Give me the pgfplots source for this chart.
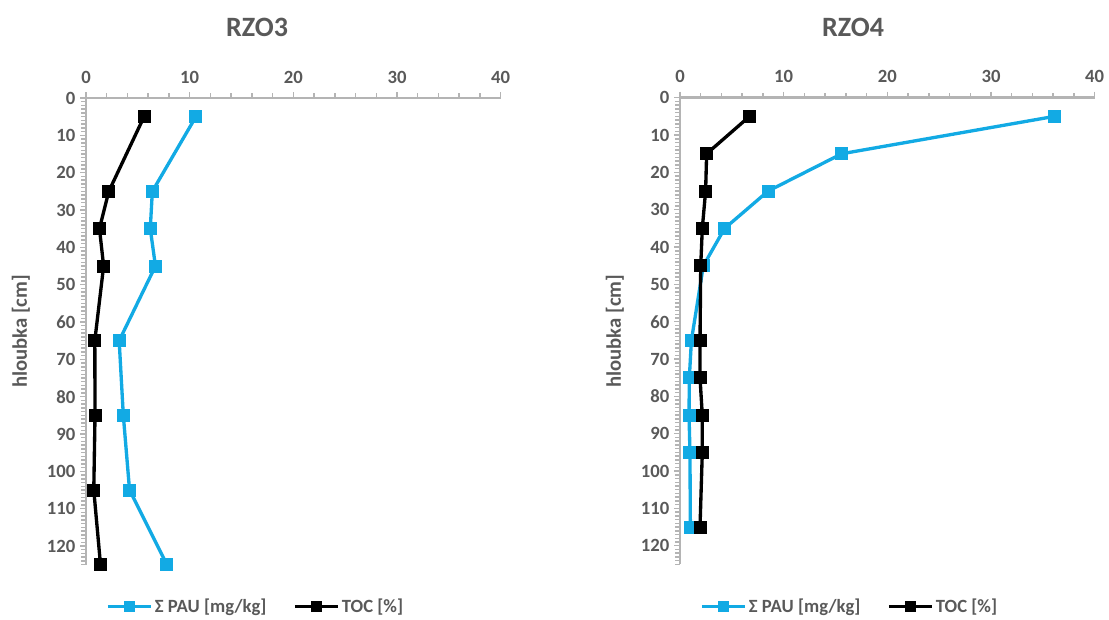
\documentclass[border=0pt]{standalone}
\usepackage{pgfplots}
\pgfplotsset{compat=1.18}
\usepackage{fontspec}
\setmainfont{Carlito}
\definecolor{pau}{RGB}{18,170,228}
\definecolor{txt}{HTML}{595959}
\definecolor{axg}{HTML}{B4B4B4}
\pgfplotsset{
 rzo/.style={
  scale only axis, width=311pt, height=350pt,
  xmin=0,xmax=40,ymin=0,ymax=125,
  y dir=reverse,
  xtick pos=right, ytick pos=left,
  xticklabel pos=right, yticklabel pos=left,
  axis line style={draw=none},
  xtick={0,10,...,40}, ytick={0,10,...,120},
  minor x tick num=4, minor ytick={0,1,...,125},
  tick align=outside,
  major tick length=4.5pt, minor tick length=3.5pt,
  every tick/.style={axg, line width=1.1pt},
  ticklabel style={font=\bfseries\fontsize{14}{14}\selectfont, text=txt},
  xticklabel style={yshift=3pt},
  /pgf/number format/assume math mode=true,
  ylabel={hloubka [cm]},
  every axis y label/.style={at={(axis description cs:-0.157,0.5)}, rotate=90, anchor=center, font=\bfseries\fontsize{15.5}{16}\selectfont, text=txt},
  clip=false,
  legend columns=2,
  legend style={draw=none, fill=none, font=\bfseries\fontsize{14}{14}\selectfont, text=txt, /tikz/every even column/.append style={column sep=18pt}, anchor=center},
  legend image code/.code={\draw[##1,mark repeat=2,mark phase=2,mark size=3.8pt] plot coordinates {(0pt,0pt) (16pt,0pt) (32pt,0pt)};},
  legend cell align=left,
 },
 pauline/.style={pau, line width=2.5pt, mark=square*, mark size=4.5pt, mark options={solid, fill=pau, draw=pau, line width=0pt}},
 tocline/.style={black, line width=2.5pt, mark=square*, mark size=4.5pt, mark options={solid, fill=black, draw=black, line width=0pt}},
}
\begin{document}
\begin{tikzpicture}
\path[use as bounding box] (0pt,0pt) rectangle (831.75pt,-464.25pt);
\node[font=\bfseries\fontsize{21}{21}\selectfont, text=txt] at (192.75pt,-20.25pt) {RZO3};
\node[font=\bfseries\fontsize{21}{21}\selectfont, text=txt] at (639.75pt,-20.25pt) {RZO4};
\begin{axis}[rzo, at={(64.5pt,-73.5pt)}, anchor=north west,
  legend style={at={(axis description cs:0.41,-0.09)}}]
\draw[axg, line width=2pt] (axis cs:0,125) -- (axis cs:0,0) -- (axis cs:40,0);
\addplot[pauline] coordinates {(10.6,5) (6.4,25) (6.2,35) (6.7,45) (3.2,65) (3.6,85) (4.2,105) (7.8,125)};
\addlegendentry{Σ PAU [mg/kg]}
\addplot[tocline] coordinates {(5.6,5) (2.2,25) (1.3,35) (1.7,45) (0.85,65) (0.87,85) (0.75,105) (1.4,125)};
\addlegendentry{TOC [\%]}
\end{axis}
\begin{axis}[rzo, at={(510pt,-73.3pt)}, anchor=north west,
  legend style={at={(axis description cs:0.41,-0.09)}}]
\draw[axg, line width=2pt] (axis cs:0,125) -- (axis cs:0,0) -- (axis cs:40,0);
\addplot[pauline] coordinates {(36.1,5) (15.6,15) (8.5,25) (4.3,35) (2.25,45) (1.1,65) (0.9,75) (0.87,85) (0.96,95) (1.0,115)};
\addlegendentry{Σ PAU [mg/kg]}
\addplot[tocline] coordinates {(6.7,5) (2.57,15) (2.47,25) (2.15,35) (2.0,45) (1.93,65) (1.93,75) (2.15,85) (2.15,95) (1.93,115)};
\addlegendentry{TOC [\%]}
\end{axis}
\end{tikzpicture}
\end{document}
